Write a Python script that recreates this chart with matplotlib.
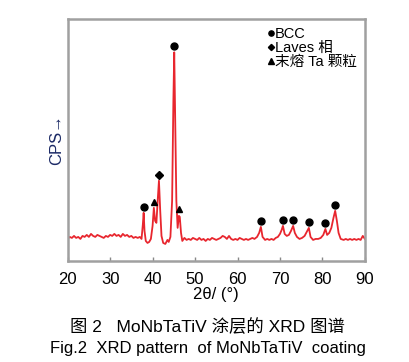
import matplotlib
matplotlib.use('Agg')
import matplotlib.pyplot as plt

plt.rcParams['font.family'] = ['Liberation Sans', 'Noto Sans CJK SC', 'DejaVu Sans']

# XRD curve (2theta, intensity in arbitrary units)
two_theta = [20, 20.5, 21, 21.5, 22, 22.5, 23, 23.5, 24, 24.5, 25, 25.5, 26, 26.5, 27, 27.5,
             28, 28.5, 29, 29.5, 30, 30.5, 31, 31.5, 32, 32.5, 33, 33.5, 34, 34.5, 35, 35.5,
             36, 36.5, 37, 37.4, 37.7, 37.9, 38.1, 38.4, 38.8, 39.2, 39.6, 40.0, 40.3, 40.6,
             40.9, 41.2, 41.5, 41.8, 42.1, 42.5, 43.0, 43.5, 43.8, 44.2, 44.6, 44.9, 45.1,
             45.3, 45.6, 45.9, 46.2, 46.4, 46.7, 47.0, 47.5, 48, 48.5, 49, 49.5, 50, 50.5, 51,
             51.5, 52, 52.5, 53, 53.5, 54, 54.5, 55, 55.5, 56, 56.5, 57, 57.5, 58, 58.5, 59,
             59.5, 60, 60.5, 61, 61.5, 62, 62.5, 63, 63.5, 64, 64.6, 65.1, 65.5, 65.9, 66.5,
             67, 67.5, 68, 68.5, 69, 69.5, 70, 70.4, 70.7, 71.1, 71.6, 72.1, 72.6, 73.1,
             73.5, 74.0, 74.6, 75.2, 75.8, 76.3, 76.8, 77.2, 77.8, 78.4, 79.0, 79.6, 80.2,
             80.7, 81.1, 81.6, 82.1, 82.6, 83.0, 83.4, 83.8, 84.3, 85, 85.5, 86, 86.5, 87,
             87.5, 88, 88.5, 89, 89.5, 90]
intensity = [22, 24, 23, 25, 23, 24, 22, 25, 24, 26, 24, 27, 25, 24, 26, 25,
             24, 23, 25, 24, 26, 25, 27, 25, 26, 24, 27, 25, 26, 24, 25, 23,
             24, 23, 24, 22, 36, 48, 30, 20, 18, 19, 22, 35, 53, 40,
             38, 60, 80, 50, 25, 18, 17, 21, 19, 24, 60, 160, 208,
             150, 60, 33, 45, 44, 28, 20, 23, 21, 22, 21, 23, 22, 21, 23,
             21, 22, 20, 22, 21, 23, 22, 21, 22, 23, 25, 24, 22, 25, 22, 21,
             22, 21, 23, 22, 21, 22, 21, 22, 23, 22, 24, 28, 34, 24, 21,
             22, 21, 22, 21, 23, 24, 27, 31, 35, 27, 25, 26, 30, 35,
             28, 24, 22, 23, 25, 29, 33, 24, 21, 22, 22, 23, 26,
             32, 26, 28, 33, 43, 50, 40, 28, 22, 21, 22, 21, 22, 21,
             22, 21, 22, 21, 25, 22]

# indexed peaks
bcc_pos = [37.9, 45.1, 65.5, 70.7, 73.1, 76.8, 80.7, 83.0]
bcc_int = [48, 208, 34, 35, 35, 33, 32, 50]
laves_pos = [41.5]
laves_int = [80]
ta_pos = [40.3, 46.3]
ta_int = [53, 46]

off = 6
fig = plt.figure(figsize=(4.1, 3.62), dpi=100)
ax = fig.add_axes([0.165, 0.279, 0.725, 0.668])
ax.plot(two_theta, intensity, color='#e8262e', lw=1.3)
ax.plot(bcc_pos, [v + off for v in bcc_int], 'o', color='black', ms=5, label='BCC')
ax.plot(laves_pos, [v + off for v in laves_int], 'D', color='black', ms=4.2, label='Laves 相')
ax.plot(ta_pos, [v + off for v in ta_int], '^', color='black', ms=5, label='末熔 Ta 颗粒')

ax.set_xlim(20, 90)
ax.set_ylim(0, 241)
ax.set_yticks([])
ax.set_xticks([20, 30, 40, 50, 60, 70, 80, 90])
ax.tick_params(axis='x', direction='in', length=3, width=1, color='#888888',
               labelsize=12, pad=8)
for s in ax.spines.values():
    s.set_color('#a0a0a0')
    s.set_linewidth(1.8)

ax.set_xlabel('2θ/ (°)', fontsize=12, labelpad=0)
fig.text(0.137, 0.613, 'CPS→', rotation=90, fontsize=12, color='#1c2a66',
         ha='center', va='center')

leg = ax.legend(loc='upper right', frameon=False, fontsize=10.5, handletextpad=0.05,
                handlelength=0.5, borderaxespad=0.15, labelspacing=0.0, markerscale=0.75)

fig.text(0.505, 0.099, '图 2   MoNbTaTiV 涂层的 XRD 图谱', fontsize=12.5, ha='center', va='center')
fig.text(0.507, 0.038, 'Fig.2  XRD pattern  of MoNbTaTiV  coating', fontsize=12,
         ha='center', va='center')

fig.savefig('out.png', dpi=100)
